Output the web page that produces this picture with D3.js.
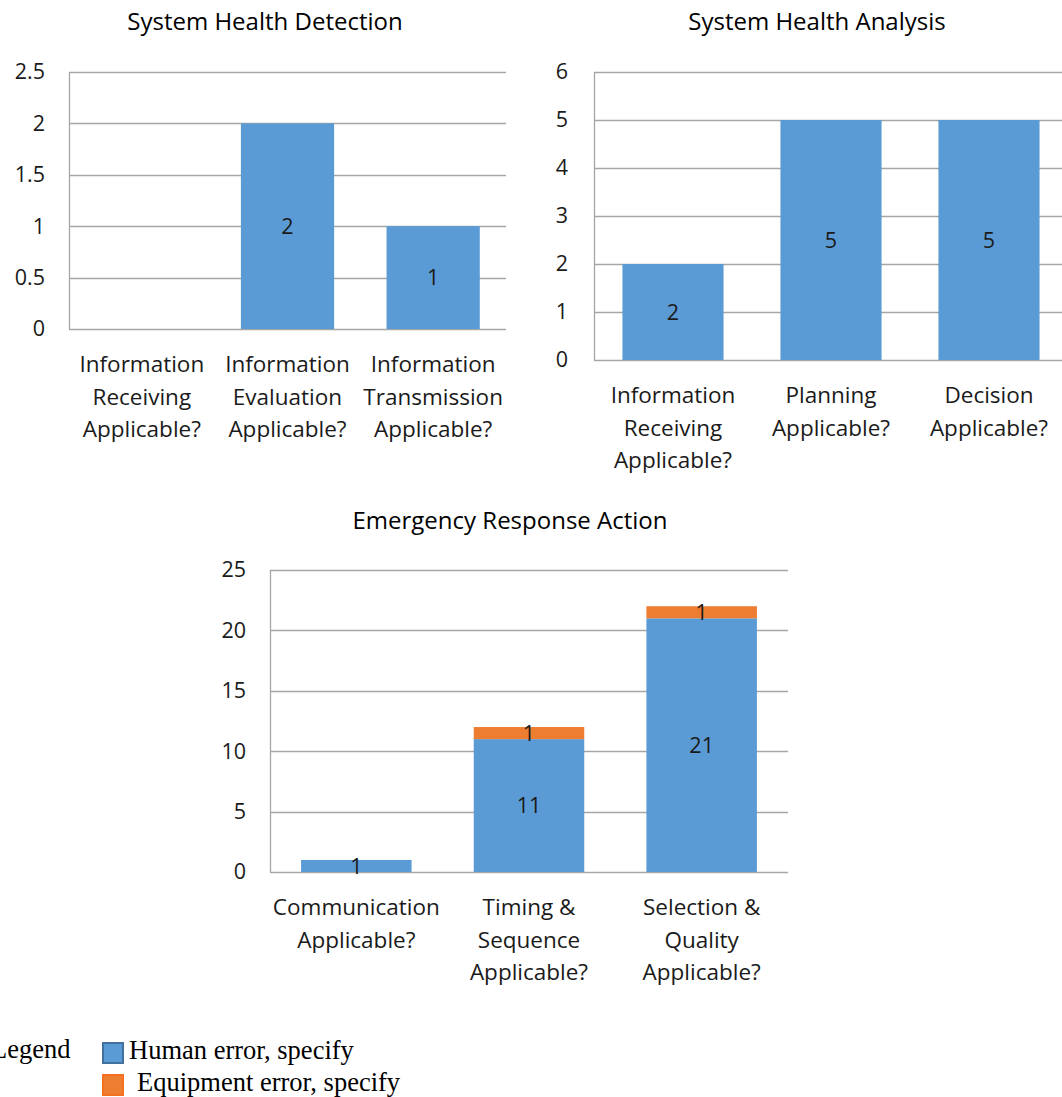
<!DOCTYPE html>
<html><head><meta charset="utf-8">
<script src="https://cdn.jsdelivr.net/npm/d3@7"></script>
<style>
body{margin:0;background:#fff;}
svg{display:block;}
</style></head>
<body>
<svg id="c" width="1062" height="1097"></svg>
<script>
// Chart 1
const cats1 = [["Information","Receiving","Applicable?"],["Information","Evaluation","Applicable?"],["Information","Transmission","Applicable?"]];
const human1 = [0, 2, 1];
const ticks1 = [0, 0.5, 1, 1.5, 2, 2.5];
// Chart 2
const cats2 = [["Information","Receiving","Applicable?"],["Planning","Applicable?"],["Decision","Applicable?"]];
const human2 = [2, 5, 5];
const ticks2 = [0, 1, 2, 3, 4, 5, 6];
// Chart 3
const cats3 = [["Communication","Applicable?"],["Timing &","Sequence","Applicable?"],["Selection &","Quality","Applicable?"]];
const human3 = [1, 11, 21];
const equip3 = [0, 1, 1];
const ticks3 = [0, 5, 10, 15, 20, 25];
const legendItems = ["Human error, specify", "Equipment error, specify"];

const BLUE = "#5B9BD5", ORANGE = "#ED7D31", GRID = "#a6a6a6", TXT = "#1a1a1a";
const FONT = "'Open Sans', sans-serif";
const svg = d3.select("#c");

function chart(cfg){
  const g = svg.append("g");
  const x = d3.scaleBand().domain(d3.range(cfg.cats.length)).range([cfg.left, cfg.right]).paddingInner(0.36).paddingOuter(0.18);
  const y = d3.scaleLinear().domain([0, d3.max(cfg.ticks)]).range([cfg.bottom, cfg.top]);
  g.selectAll("line.grid").data(cfg.ticks).join("line")
    .attr("x1", cfg.left).attr("x2", cfg.right)
    .attr("y1", d => Math.round(y(d)) + 0.5).attr("y2", d => Math.round(y(d)) + 0.5)
    .attr("stroke", GRID).attr("stroke-width", 1.3);
  g.append("line").attr("x1", cfg.left + 0.5).attr("x2", cfg.left + 0.5)
    .attr("y1", cfg.top).attr("y2", cfg.bottom).attr("stroke", GRID).attr("stroke-width", 1.3);
  const ax = g.append("g").attr("transform", `translate(${cfg.left},0)`)
    .call(d3.axisLeft(y).tickValues(cfg.ticks).tickSize(0).tickPadding(cfg.tickPad).tickFormat(d3.format("")));
  ax.select(".domain").remove();
  ax.selectAll("text").attr("font-family", FONT).attr("font-size", 21.5).attr("fill", TXT);
  let base = cfg.cats.map(() => 0);
  cfg.series.forEach(s => {
    const pts = s.values.map((v, i) => ({v, i, b: base[i]}));
    g.selectAll(null).data(pts).join("rect")
      .attr("x", d => x(d.i)).attr("width", x.bandwidth())
      .attr("y", d => y(d.b + d.v)).attr("height", d => y(d.b) - y(d.b + d.v))
      .attr("fill", s.color);
    g.selectAll(null).data(pts.filter(d => d.v > 0)).join("text")
      .attr("x", d => x(d.i) + x.bandwidth()/2)
      .attr("y", d => y(d.b + d.v/2))
      .attr("dy", "0.36em").attr("text-anchor", "middle")
      .attr("font-family", FONT).attr("font-size", 21.5).attr("fill", TXT)
      .text(d => d.v);
    base = base.map((v,i) => v + s.values[i]);
  });
  cfg.cats.forEach((lines, i) => {
    const t = g.append("text").attr("text-anchor", "middle").attr("font-family", FONT)
      .attr("font-size", 22.5).attr("fill", TXT);
    lines.forEach((l, j) => t.append("tspan").attr("x", x(i) + x.bandwidth()/2)
      .attr("y", cfg.bottom + 43 + j * 32.5).text(l));
  });
  g.append("text").attr("x", cfg.titleX).attr("y", cfg.titleY).attr("text-anchor", "middle")
    .attr("font-family", FONT).attr("font-size", 24).attr("fill", "#000").text(cfg.title);
}

chart({title:"System Health Detection", titleX:265, titleY:30, cats:cats1, ticks:ticks1,
  left:69, right:506, top:72, bottom:329, tickPad:24,
  series:[{values:human1, color:BLUE}]});
chart({title:"System Health Analysis", titleX:817, titleY:30, cats:cats2, ticks:ticks2,
  left:594, right:1068, top:72, bottom:360, tickPad:26,
  series:[{values:human2, color:BLUE}]});
chart({title:"Emergency Response Action", titleX:510, titleY:529, cats:cats3, ticks:ticks3,
  left:270, right:788, top:570, bottom:872, tickPad:24,
  series:[{values:human3, color:BLUE},{values:equip3, color:ORANGE}]});

// Legend
const lg = svg.append("g");
lg.append("text").attr("x", -9).attr("y", 1058).attr("font-family", "'Liberation Serif', serif")
  .attr("font-size", 26.5).attr("fill", "#000").text("Legend");
const lc = [BLUE, ORANGE], ls = ["#41719c", "#f4711f"], ly = [1043, 1075], lx = [129, 137];
legendItems.forEach((t, i) => {
  lg.append("rect").attr("x", 103).attr("y", ly[i]).attr("width", 20).attr("height", 20)
    .attr("fill", lc[i]).attr("stroke", ls[i]).attr("stroke-width", 2);
  lg.append("text").attr("x", lx[i]).attr("y", ly[i] + 16).attr("font-family", "'Liberation Serif', serif")
    .attr("font-size", 26.5).attr("fill", "#000").text(t);
});
</script>
</body></html>
